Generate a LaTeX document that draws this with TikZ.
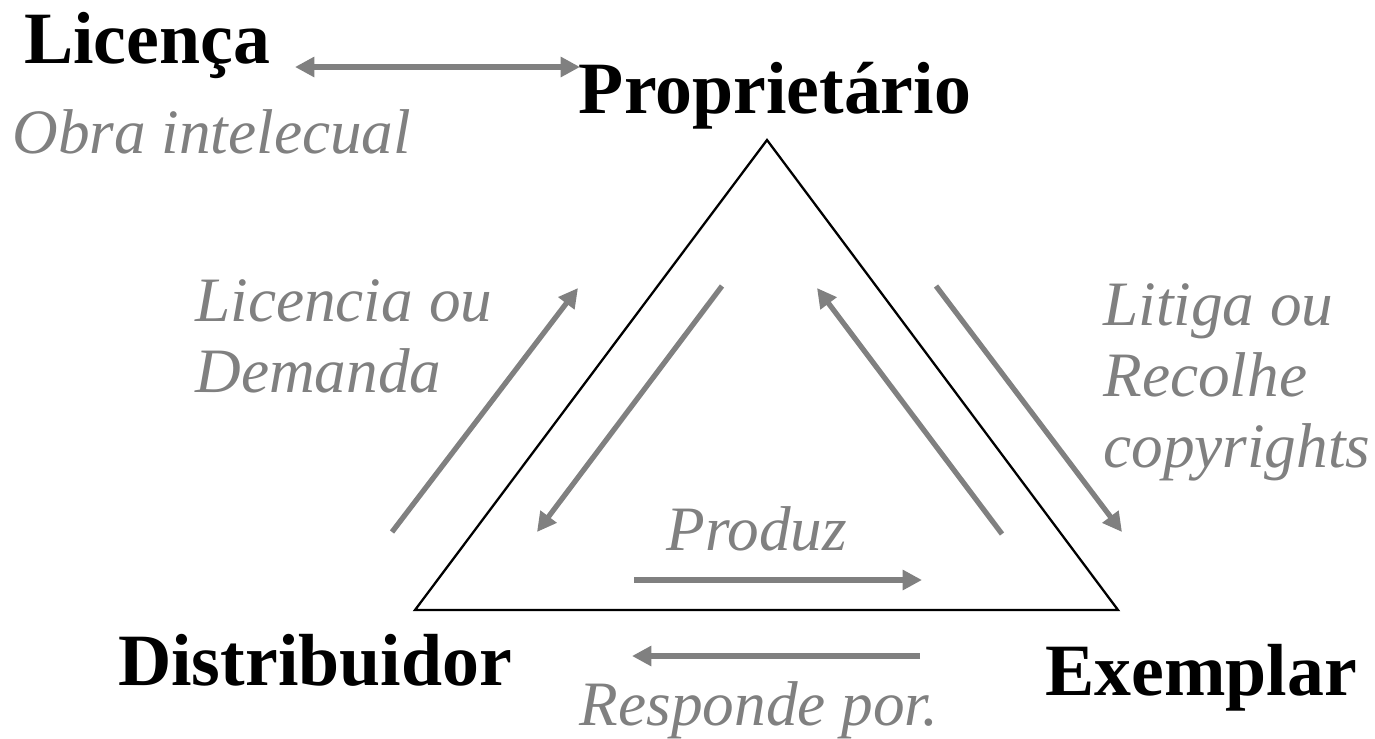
\documentclass[tikz,border=0pt]{standalone}
\usepackage{fontspec}
\setmainfont{Liberation Serif}
\usetikzlibrary{arrows.meta}
\begin{document}
\begin{tikzpicture}[
	x=0.02cm, y=-0.02cm,
	party/.style = {font=\fontsize{42}{48}\selectfont\bfseries, inner sep=0pt, anchor=base},
	act/.style   = {font=\fontsize{36}{40.2}\selectfont\itshape, text=gray, inner sep=0pt, align=left},
	flow/.style  = {->, draw=gray, line width=3pt},
	>={Triangle[length=11pt, width=11pt]}]
	
	\useasboundingbox (0,0) rectangle (1375,738);
	
	% corners of the triangle
	\coordinate (top) at (767,140);
	\coordinate (bl)  at (415,610);
	\coordinate (br)  at (1118,610);
	\draw[line width=1.3pt] (top) -- (bl) -- (br) -- cycle;
	
	% the parties
	\node[party] (lic)  at (147,63)  {Licença};
	\node[party] (prop) at (775,113) {Proprietário};
	\node[party] (dist) at (315,685) {Distribuidor};
	\node[party] (exem) at (1201,695) {Exemplar};
	
	% what they do (base = last line)
	\node[act, anchor=base west] (obra) at (12,153)   {Obra intelecual};
	\node[act, anchor=base west] (licd) at (195,392)  {Licencia ou\\Demanda};
	\node[act, anchor=base west] (liti) at (1103,467) {Litiga ou\\Recolhe\\copyrights};
	\node[act, anchor=base] (prod) at (757,550) {Produz};
	\node[act, anchor=base] (resp) at (759,725) {Responde por.};
	
	% arrow ends
	\coordinate (l1) at (295,67);   \coordinate (l2) at (580,67);
	\coordinate (a1) at (392,532);  \coordinate (a2) at (578,288);
	\coordinate (b1) at (722,286);  \coordinate (b2) at (537,532);
	\coordinate (c1) at (1002,534); \coordinate (c2) at (817,288);
	\coordinate (d1) at (936,286);  \coordinate (d2) at (1122,532);
	\coordinate (e1) at (634,580);  \coordinate (e2) at (922,580);
	\coordinate (f1) at (920,656);  \coordinate (f2) at (632,656);
	
	\draw[flow, <->] (l1) -- (l2);
	\foreach \s in {a,b,c,d,e,f}
	\draw[flow] (\s1) -- (\s2);
\end{tikzpicture}
\end{document}
